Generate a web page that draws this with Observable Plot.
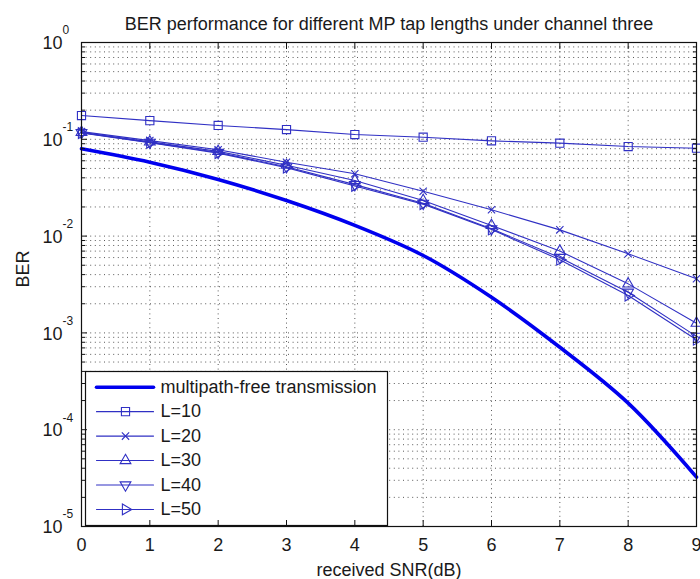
<!DOCTYPE html>
<html>
<head>
<meta charset="utf-8">
<script src="https://cdn.jsdelivr.net/npm/d3@7"></script>
<script src="https://cdn.jsdelivr.net/npm/@observablehq/plot@0.6"></script>
<style>
  html, body { margin: 0; padding: 0; background: #fff; }
  #chart svg { display: block; }
</style>
</head>
<body>
<div id="chart"></div>
<script>
// Received SNR in dB (x axis)
const snr = [0, 1, 2, 3, 4, 5, 6, 7, 8, 9];

// Bit error rate per curve
const berFree = [0.0798, 0.058, 0.0385, 0.0233, 0.0129, 0.0063, 0.00233, 0.00071, 0.000188, 0.0000324];
const berL10 = [0.176, 0.156, 0.139, 0.126, 0.112, 0.105, 0.0964, 0.0912, 0.0842, 0.0809];
const berL20 = [0.120, 0.097, 0.078, 0.058, 0.044, 0.029, 0.0187, 0.0116, 0.00656, 0.00362];
const berL30 = [0.118, 0.094, 0.075, 0.054, 0.0375, 0.0233, 0.0129, 0.0070, 0.00321, 0.00126];
const berL40 = [0.117, 0.093, 0.073, 0.052, 0.034, 0.0218, 0.0119, 0.0060, 0.00263, 0.00092];
const berL50 = [0.116, 0.092, 0.072, 0.051, 0.033, 0.0214, 0.0117, 0.0057, 0.00243, 0.00085];

// Labels
const seriesNames = ["multipath-free transmission", "L=10", "L=20", "L=30", "L=40", "L=50"];
const titleText = "BER performance for different MP tap lengths under channel three";
const xLabel = "received SNR(dB)";
const yLabel = "BER";

// Tick values
const xTicks = [0, 1, 2, 3, 4, 5, 6, 7, 8, 9];
const decadeExponents = [0, -1, -2, -3, -4, -5];
const minorMultipliers = [2, 3, 4, 5, 6, 7, 8, 9];

const decades = decadeExponents.map(e => Math.pow(10, e));
const minorTicks = decadeExponents.slice(1).flatMap(e => minorMultipliers.map(m => m * Math.pow(10, e)));

// Styling
const thinBlue = "#3030c4";
const thickBlue = "#0000ee";
const gridStyle = {stroke: "#222", strokeDasharray: "1,3.6", strokeOpacity: 0.75, strokeWidth: 1};

const seriesValues = [berFree, berL10, berL20, berL30, berL40, berL50];
const markerStyle = [
  null,
  {symbol: "square", r: 4.6, rotate: 0},
  {symbol: "times", r: 3.4, rotate: 0},
  {symbol: "triangle", r: 4, rotate: 0},
  {symbol: "triangle", r: 4, rotate: 180},
  {symbol: "triangle", r: 4, rotate: 90}
];

const rows = seriesNames.map((name, i) => snr.map((s, j) => ({series: name, snr: s, ber: seriesValues[i][j]})));

// Line segment shape used by legend swatches
const segment = {draw(context, l) { context.moveTo(0, 0); context.lineTo(0, -l); }};

const marks = [];

// Dotted grid
marks.push(Plot.ruleY(minorTicks, {y: d => d, ...gridStyle}));
marks.push(Plot.ruleY(decades, {y: d => d, ...gridStyle}));
marks.push(Plot.ruleX(xTicks, {x: d => d, ...gridStyle}));

// Curves
rows.forEach((data, i) => {
  if (i === 0) {
    marks.push(Plot.line(data, {x: "snr", y: "ber", stroke: thickBlue, strokeWidth: 3.6, curve: "catmull-rom"}));
  } else {
    const m = markerStyle[i];
    marks.push(Plot.line(data, {x: "snr", y: "ber", stroke: thinBlue, strokeWidth: 1.1}));
    marks.push(Plot.dot(data, {x: "snr", y: "ber", symbol: m.symbol, r: m.r, rotate: m.rotate,
      stroke: thinBlue, fill: "none", strokeWidth: 1.1}));
  }
});

// Legend box
marks.push(Plot.frame({fill: "white", stroke: "#111", strokeWidth: 1.2,
  insetLeft: 4, insetTop: 329, insetRight: 309, insetBottom: 1}));

seriesNames.forEach((name, i) => {
  const dy = -139.3 + i * 24.45;
  const thick = i === 0;
  marks.push(Plot.vector([name], {frameAnchor: "bottom-left", dx: 15, dy, length: 57, rotate: 90,
    anchor: "start", shape: segment, stroke: thick ? thickBlue : thinBlue, strokeWidth: thick ? 3.6 : 1.1}));
  if (!thick) {
    const m = markerStyle[i];
    marks.push(Plot.dot([name], {frameAnchor: "bottom-left", dx: 44, dy, symbol: m.symbol, r: m.r,
      rotate: m.rotate, stroke: thinBlue, fill: "none", strokeWidth: 1.1}));
  }
  marks.push(Plot.text([name], {frameAnchor: "bottom-left", dx: 79, dy, textAnchor: "start",
    lineAnchor: "middle", fontSize: 18, fill: "#1a1a1a"}));
});

// Axes box and inward ticks
marks.push(Plot.frame({stroke: "#111", strokeWidth: 1.2}));
for (const anchor of ["left", "right"]) {
  marks.push(Plot.axisY({anchor, ticks: decades, tickSize: -6, tickFormat: () => "", stroke: "#111", label: null}));
  marks.push(Plot.axisY({anchor, ticks: minorTicks, tickSize: -4, tickFormat: () => "", stroke: "#111", label: null}));
}
for (const anchor of ["top", "bottom"]) {
  marks.push(Plot.axisX({anchor, ticks: xTicks, tickSize: -6, tickFormat: () => "", stroke: "#111", label: null}));
}

// X tick labels
marks.push(Plot.axisX({anchor: "bottom", ticks: xTicks, tickSize: 0, tickPadding: 12, fontSize: 18,
  tickFormat: d => String(d), fill: "#1a1a1a", label: null}));

// Y tick labels: 10 with a raised exponent
marks.push(Plot.text(decadeExponents, {y: e => Math.pow(10, e), text: () => "10", frameAnchor: "left",
  textAnchor: "end", lineAnchor: "middle", dx: -19, dy: 1, fontSize: 18, fill: "#1a1a1a"}));
marks.push(Plot.text(decadeExponents, {y: e => Math.pow(10, e), text: e => String(e), frameAnchor: "left",
  textAnchor: "start", lineAnchor: "middle", dx: -19, dy: -12, fontSize: 12, fill: "#1a1a1a"}));

// Title and axis labels
marks.push(Plot.text([titleText], {frameAnchor: "top", lineAnchor: "bottom", dy: -13, fontSize: 18, fill: "#1a1a1a"}));
marks.push(Plot.text([xLabel], {frameAnchor: "bottom", lineAnchor: "bottom", dy: 49, fontSize: 18, fill: "#1a1a1a"}));
marks.push(Plot.text([yLabel], {frameAnchor: "left", rotate: -90, lineAnchor: "middle", dx: -58, dy: 3, fontSize: 18, fill: "#1a1a1a"}));

const chart = Plot.plot({
  width: 700,
  height: 579,
  marginLeft: 81,
  marginRight: 4,
  marginTop: 42,
  marginBottom: 53,
  style: {fontFamily: "'Liberation Sans', Arial, sans-serif", fontSize: "18px", background: "white", color: "#111", overflow: "visible"},
  x: {domain: [0, 9], axis: null},
  y: {type: "log", domain: [1e-5, 1], axis: null},
  marks
});

document.getElementById("chart").appendChild(chart);
</script>
</body>
</html>
